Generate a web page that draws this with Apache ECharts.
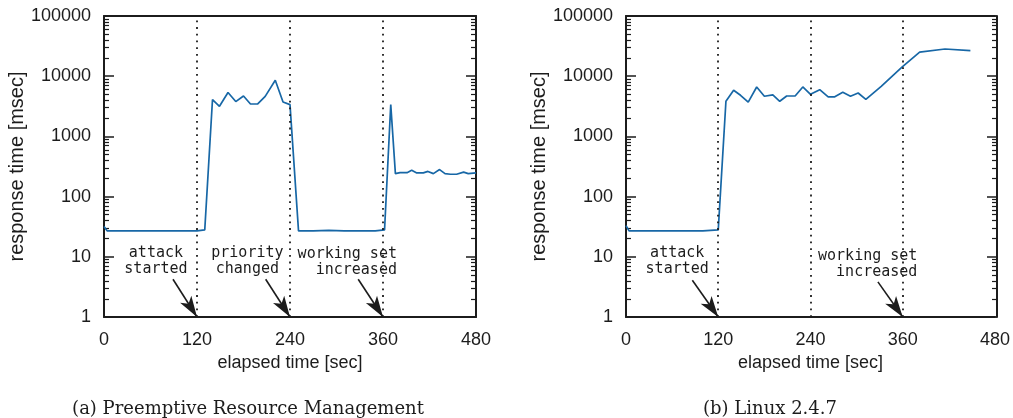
<!DOCTYPE html>
<html><head><meta charset="utf-8">
<script src="https://cdn.jsdelivr.net/npm/echarts@6/dist/echarts.min.js"></script>
<style>html,body{margin:0;padding:0;background:#fff}#c{width:1013px;height:418px}</style>
</head><body><div id="c"></div>
<script>
// ---- data ----
const timeA = [0,4,20,40,60,80,100,120,130,140,149,160,170,180,189,198,208,221,231,240,251,270,290,310,330,350,362,370,376,382,391,397,403,412,418,425,433,440,447,455,464,470,480];
const respA = [32,27,27,27,27,27,27,27,28,4090,3160,5350,3790,4690,3450,3450,4630,8550,3720,3370,27,27,27.5,27,27,27,28,3370,241,250,250,273,248,248,262,241,281,241,235,235,255,241,248];
const timeB = [0,4,20,40,60,80,100,120,130,140,149,159,170,180,191,200,209,220,230,240,252,263,271,282,292,302,312,332,359,382,415,448];
const respB = [33,27,27,27,27,27,27,28,3830,5830,4820,3720,6620,4640,4880,3830,4690,4690,6620,5000,5980,4520,4520,5410,4640,5260,4130,6790,14200,25200,28300,26600];
const xTickLabels = ['0','120','240','360','480'];
const yTickLabels = ['1','10','100','1000','10000','100000'];
const eventTimesA = [120,240,360];
const eventTimesB = [120,240,360];
const notesA = ['attack\nstarted','priority\nchanged','working set\nincreased'];
const notesB = ['attack\nstarted','working set\nincreased'];
const captions = ['(a) Preemptive Resource Management','(b) Linux 2.4.7'];

// ---- annotation anchors (data space) ----
const noteAnchorsA = [{c:[67,8.6],pos:'inside'},{c:[185,8.6],pos:'inside'},{c:[378,8.2],pos:'left'}];
const arrowsA = [[[89,4.23],[120,1]],[[208.6,4.23],[240,1]],[[328,4.23],[360,1]]];
const noteAnchorsB = [{c:[66.6,8.6],pos:'inside'},{c:[379,7.5],pos:'left'}];
const arrowsB = [[[86.3,4.07],[120,1]],[[327.7,3.83],[360,1]]];

const LINE = '#1767a6', INK = '#1c1c1c';
const SANS = 'Liberation Sans', MONO = 'DejaVu Sans Mono';

function xAxisFor(g){
  return {type:'value', gridIndex:g, position:'bottom', min:0, max:480, interval:120,
    name:'elapsed time [sec]', nameLocation:'middle', nameGap:37,
    nameTextStyle:{fontFamily:SANS,fontSize:18,color:INK},
    axisLine:{show:true,onZero:false,lineStyle:{color:INK,width:2}},
    axisTick:{show:false}, splitLine:{show:false},
    axisLabel:{fontFamily:SANS,fontSize:18,color:INK,margin:14,
      formatter:(v)=>xTickLabels[Math.round(v/120)]}};
}
function xTopFor(g){
  return {type:'value', gridIndex:g, position:'top', min:0, max:480, interval:120,
    axisLine:{show:true,onZero:false,lineStyle:{color:INK,width:2}},
    axisTick:{show:false}, axisLabel:{show:false}, splitLine:{show:false}};
}
// hidden x axis for the thin helper grid that carries the right-hand frame + ticks
function xHelperFor(g){
  return {type:'value', gridIndex:g, min:0, max:1, show:false};
}
function yAxisFor(g, main){
  return {type:'log', gridIndex:g, position:'left', min:1, max:100000,
    name: main ? 'response time [msec]' : '', nameLocation:'middle', nameGap:76,
    nameTextStyle:{fontFamily:SANS,fontSize:20,color:INK},
    axisLine:{show:true,lineStyle:{color:INK,width:2}},
    // main axis: ticks point right (inside); helper axis at the right edge: ticks point left into the plot
    axisTick:{show:true,inside:main,length:10,lineStyle:{color:INK,width:1.5}},
    minorTick:{show:true,splitNumber:9,length:5,lineStyle:{color:INK,width:1.2}},
    splitLine:{show:false},
    axisLabel:{show:main,fontFamily:SANS,fontSize:18,color:INK,margin:13,
      formatter:(v)=>yTickLabels[Math.round(Math.log10(v))]}};
}
function markLinesFor(events, arrows){
  const d = events.map(t=>({xAxis:t, lineStyle:{type:[1.8,4.9],color:INK,width:1.8}}));
  arrows.forEach(a=>{
    d.push([{coord:a[0],symbol:'none',lineStyle:{type:'solid',color:INK,width:1.6}},
            {coord:a[1],symbol:'arrow',symbolSize:[10,21]}]);
  });
  return {silent:true, animation:false, symbol:['none','none'], label:{show:false}, data:d};
}
function markPointsFor(notes, anchors){
  return {silent:true, animation:false, symbol:'circle', symbolSize:0,
    itemStyle:{color:'transparent'},
    data: notes.map((n,i)=>({name:n, coord:anchors[i].c,
      label:{show:true, formatter:(p)=>p.name, position:anchors[i].pos, distance:0,
        align: anchors[i].pos==='left' ? 'right':'center', verticalAlign:'middle',
        fontFamily:MONO, fontSize:15, lineHeight:16, color:INK}}))};
}
function mainSeries(g, times, resp, events, arrows, notes, anchors){
  return {type:'line', xAxisIndex:g, yAxisIndex:g, symbol:'none', z:3,
    lineStyle:{color:LINE,width:1.7}, itemStyle:{color:LINE},
    data: times.map((t,i)=>[t,resp[i]]),
    markLine: markLinesFor(events, arrows),
    markPoint: markPointsFor(notes, anchors)};
}

const chart = echarts.init(document.getElementById('c'), null, {renderer:'canvas'});
chart.setOption({
  animation:false,
  grid:[
    {left:104, top:16, width:372, height:301},
    {left:626, top:16, width:371, height:301},
    {left:476, top:16, width:1, height:301},
    {left:997, top:16, width:1, height:301}
  ],
  xAxis:[xAxisFor(0), xAxisFor(1), xTopFor(0), xTopFor(1), xHelperFor(2), xHelperFor(3)],
  yAxis:[yAxisFor(0,true), yAxisFor(1,true), yAxisFor(2,false), yAxisFor(3,false)],
  series:[
    mainSeries(0, timeA, respA, eventTimesA, arrowsA, notesA, noteAnchorsA),
    mainSeries(1, timeB, respB, eventTimesB, arrowsB, notesB, noteAnchorsB),
    {type:'line', xAxisIndex:4, yAxisIndex:2, data:[], silent:true},
    {type:'line', xAxisIndex:5, yAxisIndex:3, data:[], silent:true}
  ],
  graphic:[
    {type:'text', x:248, y:409, style:{text:captions[0], fontFamily:'DejaVu Serif', fontSize:18, fill:INK, align:'center', verticalAlign:'middle'}},
    {type:'text', x:770, y:409, style:{text:captions[1], fontFamily:'DejaVu Serif', fontSize:18, fill:INK, align:'center', verticalAlign:'middle'}}
  ]
});
</script>
</body></html>
